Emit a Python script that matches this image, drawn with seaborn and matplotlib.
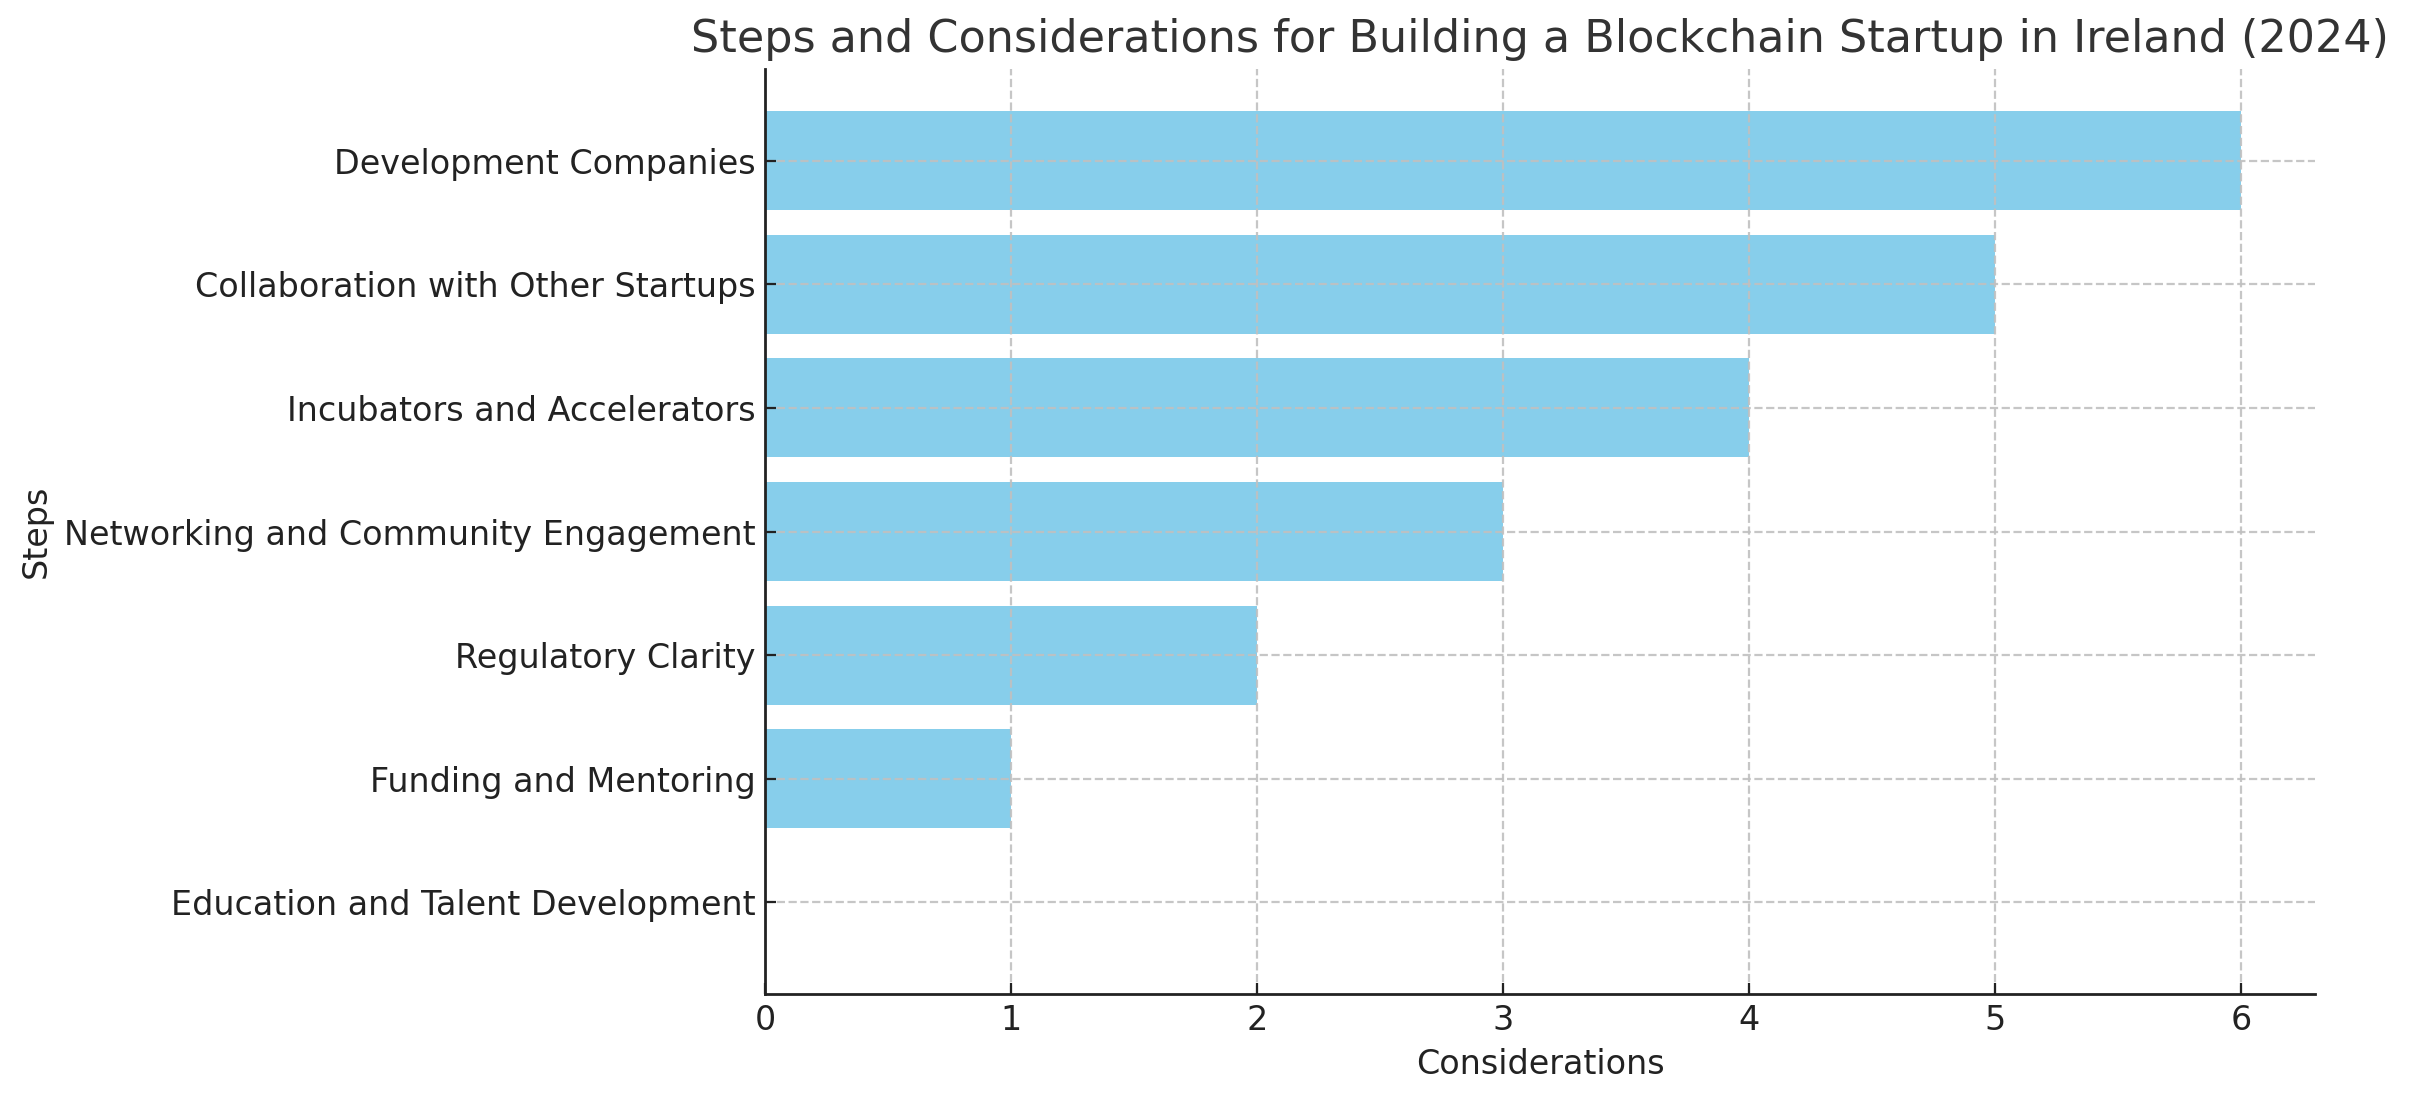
import matplotlib
matplotlib.use("Agg")
import matplotlib.pyplot as plt
import pandas as pd
import seaborn as sns

# data, top bar first
steps = [
    "Development Companies",
    "Collaboration with Other Startups",
    "Incubators and Accelerators",
    "Networking and Community Engagement",
    "Regulatory Clarity",
    "Funding and Mentoring",
    "Education and Talent Development",
]
considerations = [6, 5, 4, 3, 2, 1, 0]

df = pd.DataFrame({"Steps": steps, "Considerations": considerations})

plt.rcParams["font.family"] = ["DejaVu Sans"]
plt.rcParams["xtick.direction"] = "in"
plt.rcParams["ytick.direction"] = "in"

fig, ax = plt.subplots(figsize=(12.045, 5.505), dpi=200)
fig.subplots_adjust(left=0.3176, right=0.961, top=0.9373, bottom=0.0972)

sns.barplot(
    data=df,
    x="Considerations",
    y="Steps",
    orient="h",
    color="skyblue",
    saturation=1,
    width=0.8,
    ax=ax,
)

ax.set_xlim(0, 6.3)
ax.set_ylim(6.74, -0.74)
ax.set_axisbelow(False)
ax.grid(True, linestyle="--", color="#c0c0c0", linewidth=0.8, alpha=0.9)

for side in ("top", "right"):
    ax.spines[side].set_visible(False)
for side in ("left", "bottom"):
    ax.spines[side].set_color("#222222")
    ax.spines[side].set_linewidth(1.0)
    ax.spines[side].set_zorder(5)

ax.tick_params(axis="both", labelsize=12, colors="#222222", length=4)
ax.set_xlabel("Considerations", fontsize=12, color="#222222")
ax.set_ylabel("Steps", fontsize=12, color="#222222")
ax.set_title(
    "Steps and Considerations for Building a Blockchain Startup in Ireland (2024)",
    fontsize=16,
    color="#333333",
)

fig.savefig("out.png", dpi=200)
